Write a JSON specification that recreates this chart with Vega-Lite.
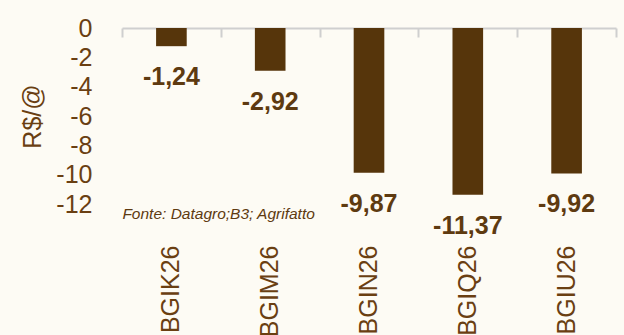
{
  "$schema": "https://vega.github.io/schema/vega-lite/v6.json",
  "autosize": {"type": "none"},
  "padding": {"left": 122, "top": 28, "right": 8, "bottom": 131},
  "width": 494,
  "height": 176,
  "background": "#fdfbf4",
  "config": {
    "view": {"stroke": null},
    "font": "Liberation Sans, Arial, sans-serif",
    "axisY": {
      "title": "R$/@", "titleFontSize": 25, "titleFontWeight": "normal", "titleColor": "#6a3f12",
      "titlePadding": 10, "values": [0, -2, -4, -6, -8, -10, -12], "tickCount": 7,
      "labelExpr": "toString(datum.value)", "labelOverlap": false,
      "labelFontSize": 25, "labelColor": "#6a3f12", "labelPadding": 30,
      "ticks": false, "domain": false, "grid": false
    }
  },
  "data": {
    "values": [
      {"contrato": "BGIK26", "valor": -1.24, "rotulo": "-1,24"},
      {"contrato": "BGIM26", "valor": -2.92, "rotulo": "-2,92"},
      {"contrato": "BGIN26", "valor": -9.87, "rotulo": "-9,87"},
      {"contrato": "BGIQ26", "valor": -11.37, "rotulo": "-11,37"},
      {"contrato": "BGIU26", "valor": -9.92, "rotulo": "-9,92"}
    ]
  },
  "resolve": {"axis": {"x": "independent"}},
  "layer": [
    {
      "mark": {"type": "bar", "color": "#56350b"},
      "encoding": {
        "x": {
          "field": "contrato", "type": "nominal", "sort": null,
          "scale": {"paddingInner": 0.69, "paddingOuter": 0.345},
          "axis": {
            "orient": "bottom", "title": null, "labelAngle": -90, "labelPadding": 41,
            "domain": false, "ticks": false, "labelFontSize": 25, "labelColor": "#6a3f12"
          }
        },
        "y": {
          "field": "valor", "type": "quantitative",
          "scale": {"domain": [-12, 0], "nice": false, "zero": false},
          "axis": {"title": "R$/@", "values": [0, -2, -4, -6, -8, -10, -12], "labelOverlap": false, "tickCount": 7}
        }
      }
    },
    {
      "mark": {"type": "text", "baseline": "top", "dy": 19, "fontWeight": "bold", "fontSize": 25, "color": "#5e3a10"},
      "encoding": {
        "x": {
          "field": "contrato", "type": "nominal", "sort": null,
          "axis": {
            "orient": "bottom", "offset": -176, "title": null, "labels": false, "domain": true, "ticks": true,
            "bandPosition": 0, "tickOffset": -34, "tickSize": 9, "domainColor": "#cfcfcf", "domainWidth": 2,
            "tickColor": "#cfcfcf", "tickWidth": 2
          }
        },
        "y": {
          "field": "valor", "type": "quantitative",
          "axis": {"title": "R$/@", "values": [0, -2, -4, -6, -8, -10, -12], "labelOverlap": false, "tickCount": 7}
        },
        "text": {"field": "rotulo"}
      }
    },
    {
      "data": {"values": [{"fonte": "Fonte: Datagro;B3; Agrifatto"}]},
      "mark": {"type": "text", "align": "left", "baseline": "top", "dx": -49, "dy": 3, "fontStyle": "italic", "fontSize": 15.5, "color": "#5e3a10"},
      "encoding": {
        "x": {
          "datum": "BGIK26", "type": "nominal",
          "axis": {
            "orient": "bottom", "offset": -176, "title": null, "labels": false, "domain": false, "ticks": true,
            "values": ["BGIU26"], "bandPosition": 1, "tickOffset": 34, "tickSize": 9,
            "tickColor": "#cfcfcf", "tickWidth": 2
          }
        },
        "y": {
          "datum": -12, "type": "quantitative",
          "axis": {"title": "R$/@", "values": [0, -2, -4, -6, -8, -10, -12], "labelOverlap": false, "tickCount": 7}
        },
        "text": {"field": "fonte"}
      }
    }
  ]
}
